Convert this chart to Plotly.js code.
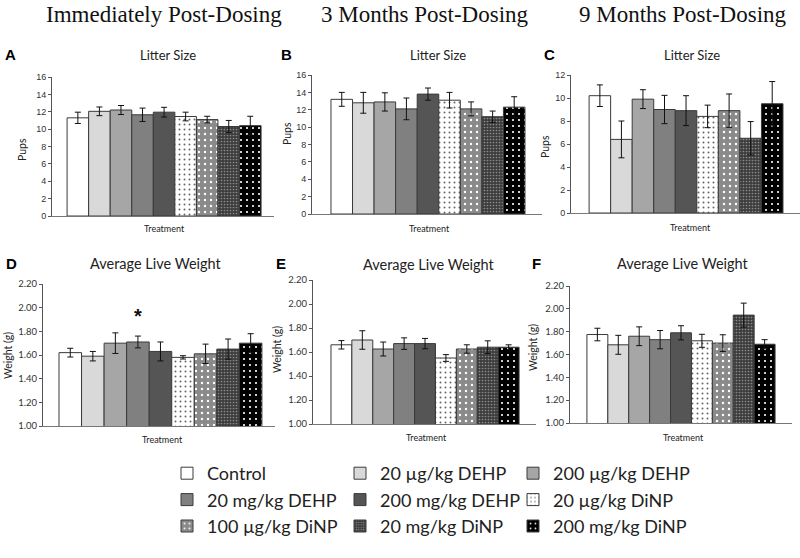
<!DOCTYPE html>
<html>
<head>
<meta charset="utf-8">
<script src="https://cdn.plot.ly/plotly-3.0.1.min.js"></script>
<style>
  html, body { margin: 0; padding: 0; background: #fff; }
  #graph { width: 800px; height: 558px; }
</style>
</head>
<body>
<div id="graph"></div>
<script>
// treatment groups (one bar each, same order in every panel)
var treatments = ['Control', '20 µg/kg DEHP', '200 µg/kg DEHP', '20 mg/kg DEHP', '200 mg/kg DEHP',
                  '20 µg/kg DiNP', '100 µg/kg DiNP', '20 mg/kg DiNP', '200 mg/kg DiNP'];

// litter size (pups), mean and error
var litterImm    = [11.3, 12.05, 12.2, 11.65, 11.95, 11.45, 11.1, 10.3, 10.4];
var litterImmErr = [0.65, 0.5, 0.52, 0.77, 0.56, 0.5, 0.38, 0.7, 1.08];
var litter3m     = [13.2, 12.8, 12.9, 12.1, 13.8, 13.1, 12.1, 11.2, 12.3];
var litter3mErr  = [0.8, 1.2, 1.05, 1.25, 0.7, 0.9, 0.8, 0.65, 1.2];
var litter9m     = [10.2, 6.4, 9.9, 9.0, 8.9, 8.4, 8.9, 6.5, 9.5];
var litter9mErr  = [0.94, 1.6, 0.82, 1.23, 1.3, 0.98, 1.45, 1.45, 1.93];

// average live weight (g), mean and error
var weightImm    = [1.62, 1.59, 1.70, 1.71, 1.63, 1.58, 1.61, 1.65, 1.70];
var weightImmErr = [0.037, 0.04, 0.087, 0.05, 0.08, 0.014, 0.082, 0.085, 0.08];
var weight3m     = [1.66, 1.70, 1.625, 1.67, 1.67, 1.55, 1.625, 1.64, 1.64];
var weight3mErr  = [0.035, 0.077, 0.058, 0.048, 0.043, 0.028, 0.035, 0.053, 0.02];
var weight9m     = [1.775, 1.685, 1.76, 1.73, 1.79, 1.72, 1.70, 1.945, 1.69];
var weight9mErr  = [0.055, 0.083, 0.082, 0.08, 0.062, 0.057, 0.073, 0.105, 0.04];

var headers = ['Immediately Post-Dosing', '3 Months Post-Dosing', '9 Months Post-Dosing'];

// fill style for each treatment
var fills = [
    {color: '#ffffff'},
    {color: '#d9d9d9'},
    {color: '#a6a6a6'},
    {color: '#808080'},
    {color: '#555555'},
    {color: '#ffffff', pattern: {shape: '.', fgcolor: '#666666', bgcolor: '#ffffff', size: 5, solidity: 0.12}},
    {color: '#8a8a8a', pattern: {shape: '.', fgcolor: '#ffffff', bgcolor: '#8a8a8a', size: 6, solidity: 0.12}},
    {color: '#3c3c3c', pattern: {shape: '.', fgcolor: '#8c8c8c', bgcolor: '#3c3c3c', size: 3, solidity: 0.25}},
    {color: '#000000', pattern: {shape: '.', fgcolor: '#ffffff', bgcolor: '#000000', size: 6, solidity: 0.1}}
];

var panels = [
    {vals: litterImm, errs: litterImmErr, ax: ''},
    {vals: litter3m,  errs: litter3mErr,  ax: '2'},
    {vals: litter9m,  errs: litter9mErr,  ax: '3'},
    {vals: weightImm, errs: weightImmErr, ax: '4'},
    {vals: weight3m,  errs: weight3mErr,  ax: '5'},
    {vals: weight9m,  errs: weight9mErr,  ax: '6'}
];

function px(x) { return x / 800; }
function py(y) { return 1 - y / 558; }

function main() {
    var data = [];
    var legendIds = ['legend', 'legend2', 'legend3'];
    panels.forEach(function (p, pi) {
        treatments.forEach(function (t, i) {
            var marker = {color: fills[i].color, line: {color: '#3a3a3a', width: 1}};
            if (fills[i].pattern) marker.pattern = fills[i].pattern;
            data.push({
                type: 'bar',
                x: [t],
                y: [p.vals[i]],
                width: 1,
                name: t,
                showlegend: pi === 0,
                legend: legendIds[i % 3],
                marker: marker,
                error_y: {type: 'data', array: [p.errs[i]], visible: true,
                          color: '#111111', thickness: 1, width: 3},
                xaxis: 'x' + p.ax,
                yaxis: 'y' + p.ax,
                hoverinfo: 'x+y'
            });
        });
    });

    var tickTop = {family: 'Liberation Sans Narrow, Liberation Sans, Arial', size: 9, color: '#333'};
    var tickBot = {family: 'Lato, sans-serif', size: 9.5, color: '#333'};

    function xax(x0, x1, yid, r0, r1) {
        return {
            domain: [px(x0), px(x1)], anchor: 'y' + yid,
            type: 'category', categoryorder: 'array', categoryarray: treatments,
            range: [r0, r1], showticklabels: false, ticks: '',
            showline: true, linecolor: '#777', linewidth: 1.2,
            showgrid: false, zeroline: false, fixedrange: true
        };
    }
    function yax(y0, y1, xid, range, dtick, fmt, tf) {
        return {
            domain: [py(y1), py(y0)], anchor: 'x' + xid,
            range: range, dtick: dtick, tickformat: fmt,
            ticks: 'outside', ticklen: 3, tickcolor: '#555', tickfont: tf,
            showline: true, linecolor: '#555', linewidth: 1,
            showgrid: false, zeroline: false, fixedrange: true
        };
    }
    function leg(x) {
        return {
            orientation: 'v', x: px(x), y: py(455), xanchor: 'left', yanchor: 'top',
            itemwidth: 30, traceorder: 'normal', bgcolor: 'rgba(0,0,0,0)',
            font: {family: 'Lato, sans-serif', size: 18, color: '#222'}
        };
    }

    var annotations = [];
    function label(text, x, y, font, angle) {
        annotations.push({text: text, xref: 'paper', yref: 'paper', x: px(x), y: py(y),
            showarrow: false, xanchor: 'center', yanchor: 'middle', textangle: angle || 0, font: font});
    }
    var headX = [164, 425, 683];
    headers.forEach(function (h, i) {
        label(h, headX[i], 15, {family: 'Liberation Serif, Times New Roman, serif', size: 23, color: '#111'});
    });
    var letters = [['A', 10, 55], ['B', 286, 55], ['C', 549, 55], ['D', 11, 263], ['E', 281, 263], ['F', 536, 263]];
    letters.forEach(function (l) {
        label('<b>' + l[0] + '</b>', l[1], l[2], {family: 'Liberation Sans, Arial', size: 15, color: '#000'});
    });
    var subTitles = [['Litter Size', 168, 55, 13], ['Litter Size', 438, 55, 13], ['Litter Size', 692, 55, 13],
                     ['Average Live Weight', 156, 263, 14.5], ['Average Live Weight', 429, 264, 14.5],
                     ['Average Live Weight', 683, 263, 14.5]];
    subTitles.forEach(function (s) {
        label(s[0], s[1], s[2], {family: 'Lato, sans-serif', size: s[3], color: '#222'});
    });
    // axis titles
    var axFont = {family: 'Lato, sans-serif', size: 10.5, color: '#222'};
    [['Pups', 22, 150], ['Pups', 287, 134], ['Pups', 545, 147],
     ['Weight (g)', 8, 356], ['Weight (g)', 277, 350], ['Weight (g)', 533, 348]].forEach(function (a) {
        label(a[0], a[1], a[2], axFont, -90);
    });
    var trFont = {family: 'Lato, sans-serif', size: 9, color: '#222'};
    [[164, 229], [429, 228], [690, 227], [162, 439], [426, 437], [683, 437]].forEach(function (a) {
        label('Treatment', a[0], a[1], trFont);
    });
    // significance marks
    annotations.push({text: '<b>*</b>', xref: 'x4', yref: 'y4', x: treatments[3], y: 1.93,
        showarrow: false, font: {family: 'Liberation Sans, Arial', size: 20, color: '#111'}});
    annotations.push({text: '<b>^</b>', xref: 'x6', yref: 'y6', x: treatments[7], y: 2.24,
        showarrow: false, font: {family: 'Liberation Sans, Arial', size: 15, color: '#111'}});

    var layout = {
        width: 800, height: 558,
        margin: {l: 0, r: 0, t: 0, b: 0},
        paper_bgcolor: '#fff', plot_bgcolor: '#fff',
        barmode: 'overlay', bargap: 0,
        showlegend: true,
        legend: leg(167),
        legend2: leg(340),
        legend3: leg(513),
        xaxis:  xax(52, 274, '', -1.2, 9.1),
        yaxis:  yax(77, 216, '', [0, 16], 2, '', tickTop),
        xaxis2: xax(312, 542, '2', -1.38, 9.29),
        yaxis2: yax(75, 214, '2', [0, 16], 2, '', tickTop),
        xaxis3: xax(571, 800, '3', -1.34, 9.29),
        yaxis3: yax(75, 213, '3', [0, 12], 2, '', tickTop),
        xaxis4: xax(43, 275, '4', -1.21, 9.08),
        yaxis4: yax(284, 426, '4', [1, 2.2], 0.2, '.2f', tickBot),
        xaxis5: xax(313, 536, '5', -1.36, 9.31),
        yaxis5: yax(280, 424, '5', [1, 2.2], 0.2, '.2f', tickBot),
        xaxis6: xax(570, 792, '6', -1.31, 9.31),
        yaxis6: yax(286, 423, '6', [1, 2.2], 0.2, '.2f', tickBot),
        annotations: annotations
    };

    Plotly.newPlot('graph', data, layout, {staticPlot: true});
}

document.addEventListener('DOMContentLoaded', main, false);
</script>
</body>
</html>
